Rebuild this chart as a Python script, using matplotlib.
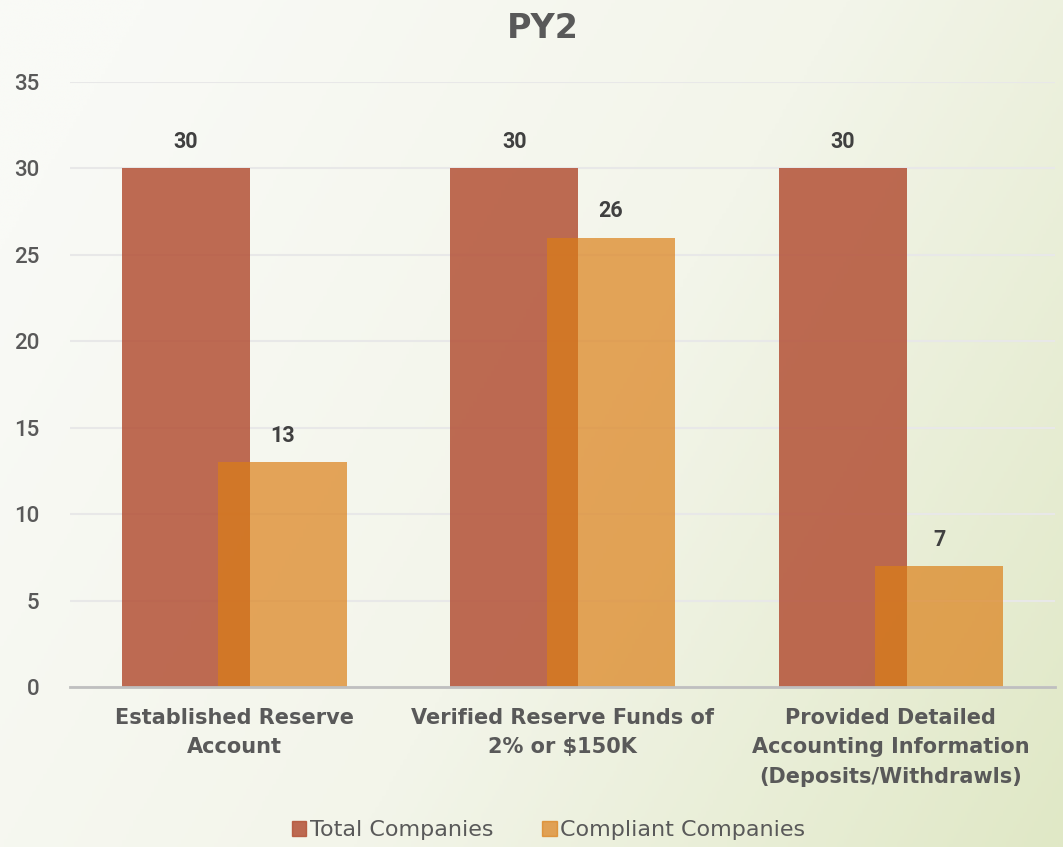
import numpy as np
from matplotlib import pyplot as plt
from matplotlib.colors import LinearSegmentedColormap
from matplotlib.patches import Patch

# data
categories = ['Established Reserve\nAccount',
              'Verified Reserve Funds of\n2% or $150K',
              'Provided Detailed\nAccounting Information\n(Deposits/Withdrawls)']
total_companies = [30, 30, 30]
compliant_companies = [13, 26, 7]
series_names = ['Total Companies', 'Compliant Companies']

TEXT = '#595959'
TOTAL_COLOR = '#B35136'
COMPLIANT_COLOR = '#DB7E15'
WIDE = ['DejaVu Sans']
NUM = ['Roboto', 'DejaVu Sans']

plt.rcParams['font.family'] = WIDE

fig = plt.figure(figsize=(10.63, 8.47), dpi=100)

# background gradient (white-ish top-left -> pale green bottom-right)
bg = fig.add_axes([0, 0, 1, 1], zorder=-10)
gx, gy = np.meshgrid(np.linspace(0, 1, 300), np.linspace(0, 1, 300))
g = np.clip(0.75 * gx + 0.35 * gy - 0.1, 0, 1)
cmap = LinearSegmentedColormap.from_list('bg', ['#F9FAF6', '#F3F5EA', '#E0E8C6'])
bg.imshow(g, cmap=cmap, aspect='auto', extent=(0, 1, 0, 1), origin='upper')
bg.set_axis_off()

ax = fig.add_axes([0.0659, 0.1889, 0.9266, 0.7143])
ax.patch.set_alpha(0)

x = np.arange(len(categories))
w = 0.39
off = 0.147
b1 = ax.bar(x - off, total_companies, w, color=TOTAL_COLOR, alpha=0.85, zorder=2)
b2 = ax.bar(x + off, compliant_companies, w, color=COMPLIANT_COLOR, alpha=0.69, zorder=3)

for bars, vals in ((b1, total_companies), (b2, compliant_companies)):
    for r, v in zip(bars, vals):
        ax.annotate(str(v), (r.get_x() + r.get_width() / 2, v),
                    xytext=(0, 11), textcoords='offset points',
                    ha='center', va='bottom', fontsize=15.5, fontweight='bold',
                    family=NUM, color='#404040')

ax.set_xlim(-0.5, 2.5)
ax.set_ylim(0, 35)
ax.set_yticks(range(0, 36, 5))
ax.yaxis.grid(True, color='#E8E8E8', lw=1.5, zorder=0)
ax.set_axisbelow(True)
for s in ('top', 'right', 'left'):
    ax.spines[s].set_visible(False)
ax.spines['bottom'].set_color('#BFBFBF')
ax.spines['bottom'].set_linewidth(2)
ax.spines['bottom'].set_zorder(4)

ax.set_xticks(x)
ax.set_xticklabels(categories, fontsize=15, fontweight='semibold', color=TEXT,
                   linespacing=1.6)
ax.tick_params(axis='x', length=0, pad=15)
ax.tick_params(axis='y', length=0, pad=22, labelsize=16, labelcolor=TEXT)
for t in ax.get_yticklabels():
    t.set_family(NUM)
    t.set_fontweight('medium')

fig.text(0.511, 0.966, 'PY2', ha='center', va='center', fontsize=24,
         fontweight='bold', color=TEXT)

handles = [Patch(color=TOTAL_COLOR, alpha=0.85), Patch(color=COMPLIANT_COLOR, alpha=0.69)]
leg = fig.legend(handles, series_names, loc='center', bbox_to_anchor=(0.516, 0.02),
                 ncol=2, frameon=False, fontsize=16, handlelength=0.65,
                 handleheight=0.65, handletextpad=0.15, columnspacing=2.2)
for t in leg.get_texts():
    t.set_color(TEXT)

fig.savefig('out.png', dpi=100)
